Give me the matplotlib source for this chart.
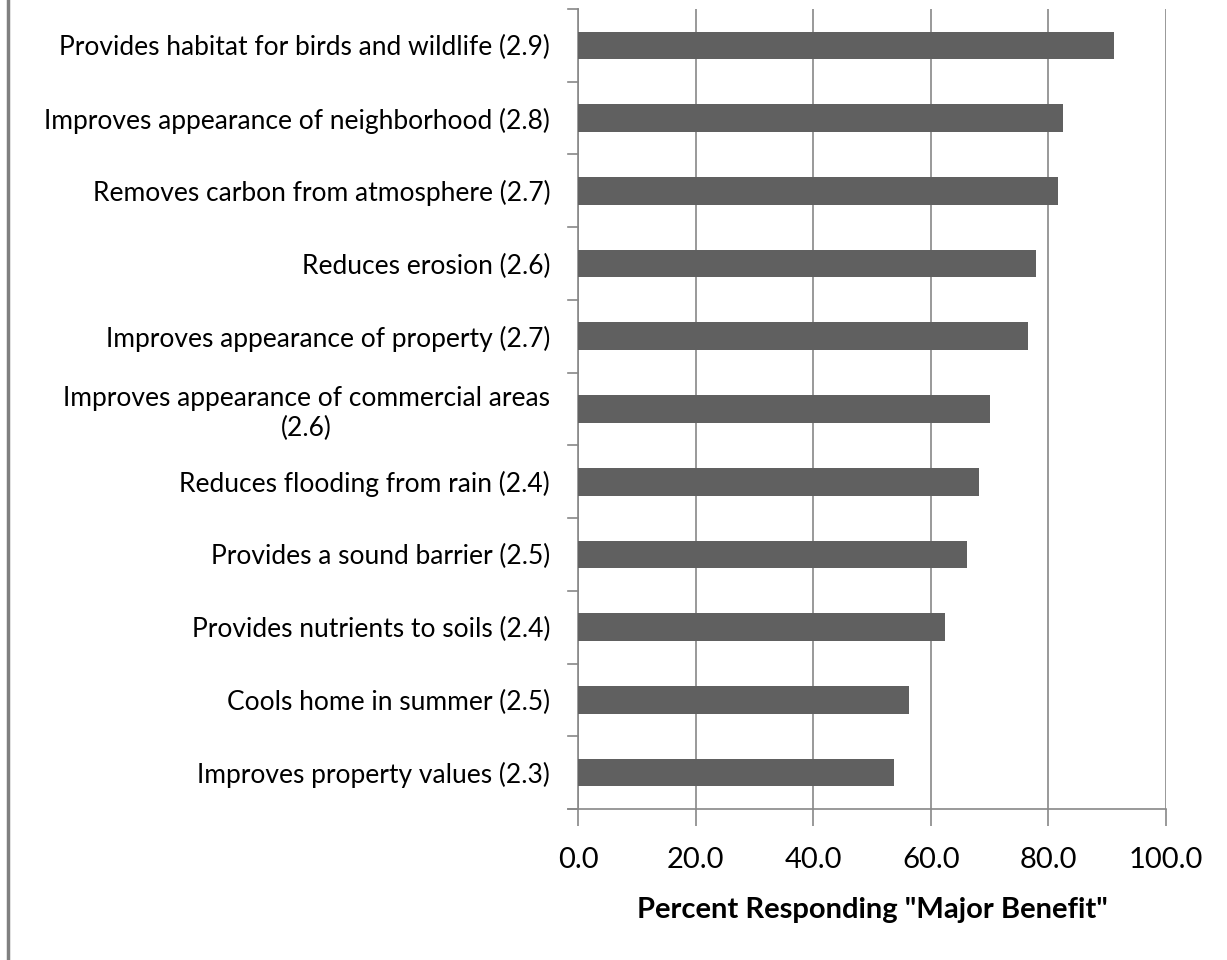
import matplotlib.pyplot as plt
from matplotlib.lines import Line2D

# categories top to bottom
labels = [
    "Provides habitat for birds and wildlife (2.9)",
    "Improves appearance of neighborhood (2.8)",
    "Removes carbon from atmosphere (2.7)",
    "Reduces erosion (2.6)",
    "Improves appearance of property (2.7)",
    "Improves appearance of commercial areas\n(2.6)",
    "Reduces flooding from rain (2.4)",
    "Provides a sound barrier (2.5)",
    "Provides nutrients to soils (2.4)",
    "Cools home in summer (2.5)",
    "Improves property values (2.3)",
]
values = [91.2, 82.5, 81.6, 77.9, 76.5, 70.1, 68.2, 66.2, 62.4, 56.3, 53.7]
xticks = [0, 20, 40, 60, 80, 100]

plt.rcParams['font.family'] = ['Lato', 'DejaVu Sans']

fig = plt.figure(figsize=(12.27, 9.6), dpi=100)
ax = fig.add_axes([578 / 1227, 1 - 809 / 960, (1166 - 578) / 1227, 800 / 960])

n = len(labels)
ypos = list(range(n))[::-1]
ax.barh(ypos, values, height=0.38, color='#606060', zorder=3)

ax.set_xlim(0, 100)
ax.set_ylim(-0.5, n - 0.5)
ax.set_xticks(xticks)
ax.set_xticklabels([f"{v:.1f}" for v in xticks], fontsize=21)
ax.grid(axis='x', color='#888888', linewidth=1.2, zorder=0)

# category labels at centers, ticks at boundaries
ax.set_yticks(ypos)
ax.set_yticklabels(labels, fontsize=19, multialignment='center', linespacing=1.2)
ax.tick_params(axis='y', length=0, pad=20)
for b in range(n + 1):
    ax.add_line(Line2D([-0.017, 0], [b - 0.5, b - 0.5], transform=ax.get_yaxis_transform(),
                       color='#888888', lw=1.2, clip_on=False))
ax.tick_params(axis='x', length=12, width=1.2, color='#888888', pad=15)

for s in ['top', 'right']:
    ax.spines[s].set_visible(False)
for s in ['left', 'bottom']:
    ax.spines[s].set_color('#888888')
    ax.spines[s].set_linewidth(1.2)
ax.spines['bottom'].set_bounds(-1.7, 100)

ax.set_xlabel('Percent Responding "Major Benefit"', fontsize=21, fontweight='bold')
ax.xaxis.set_label_coords(0.5, -(910 - 809) / 800, transform=ax.transAxes)
ax.xaxis.label.set_va('center')

# left frame line
fig.add_artist(Line2D([8 / 1227, 8 / 1227], [0, 1], transform=fig.transFigure,
                      color='#808080', lw=2.5))

fig.savefig('out.png', dpi=100)
